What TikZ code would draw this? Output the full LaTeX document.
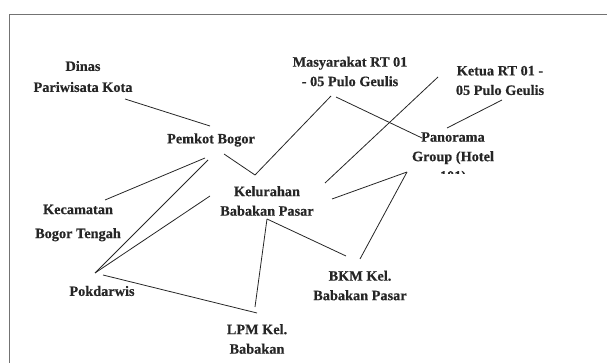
\documentclass[tikz,border=0pt]{standalone}
\usepackage{fontspec}
\setmainfont{Liberation Serif}
\newfontfamily\lblfont{Liberation Serif Bold}[FakeBold=0.4]
\usetikzlibrary{calc}
\begin{document}
\begin{tikzpicture}[x=1pt,y=-1pt,
  lbl/.style={align=center,inner sep=0pt,font=\lblfont\fontsize{14.3}{19.5}\selectfont,text=black!85},
  conn/.style={draw=black!85,line width=0.8pt},
  frame/.style={draw=black!55,line width=1pt}]
\useasboundingbox (0,0) rectangle (607,363);
\draw[frame] (9.5,363) -- (9.5,15) -- (607,15);
% nodes
\node[lbl] (dinas) at (83,76.5) {Dinas\\[1.5pt]Pariwisata Kota};
\node[lbl] (masy) at (350,71.5) {Masyarakat RT 01\\- 05 Pulo Geulis};
\node[lbl] (ketua) at (500,80.5) {Ketua RT 01 -\\05 Pulo Geulis};
\node[lbl] (pemkot) at (211,140) {Pemkot Bogor};
\node[lbl] (kel) at (267,201) {Kelurahan\\Babakan Pasar};
\node[lbl] (kec) at (78,223) {Kecamatan\\[4.5pt]Bogor Tengah};
\begin{scope}
\clip (395,122) rectangle (515,174);
\node[lbl] (pano) at (453,158) {Panorama\\Group (Hotel\\101)};
\end{scope}
\node[lbl] (bkm) at (360,285.5) {BKM Kel.\\Babakan Pasar};
\node[lbl] (pok) at (102,291) {Pokdarwis};
\node[lbl] (lpm) at (257,339) {LPM Kel.\\Babakan};
% connectors
\draw[conn] ($(dinas)+(42,22.5)$) -- ($(pemkot)+(-1,-14)$);
\draw[conn] ($(masy)+(-19,24.5)$) -- ($(kel)+(-12,-26)$);
\draw[conn] ($(pemkot)+(13,14)$) -- ($(kel)+(-12,-26)$);
\draw[conn] ($(masy)+(-14,25.5)$) -- ($(pano)+(-31,-20)$);
\draw[conn] ($(ketua)+(-62,-3.5)$) -- ($(kel)+(58,-18)$);
\draw[conn] ($(ketua)+(2,19.5)$) -- ($(pano)+(-6,-30)$);
\draw[conn] ($(pemkot)+(-6,18)$) -- ($(kec)+(27,-23)$);
\draw[conn] ($(pemkot)+(-3,20)$) -- ($(pok)+(-7,-18)$);
\draw[conn] ($(kel)+(-57,-5)$) -- ($(pok)+(-7,-18)$);
\draw[conn] ($(kel)+(0,18)$) -- ($(lpm)+(-2,-32)$);
\draw[conn] ($(kel)+(0,18)$) -- ($(bkm)+(-14,-29.5)$);
\draw[conn] ($(pano)+(-46,14)$) -- ($(kel)+(65,-2)$);
\draw[conn] ($(pano)+(-46,14)$) -- ($(bkm)+(0,-26.5)$);
\draw[conn] ($(pok)+(1,-16)$) -- ($(lpm)+(0,-26)$);
\end{tikzpicture}
\end{document}
